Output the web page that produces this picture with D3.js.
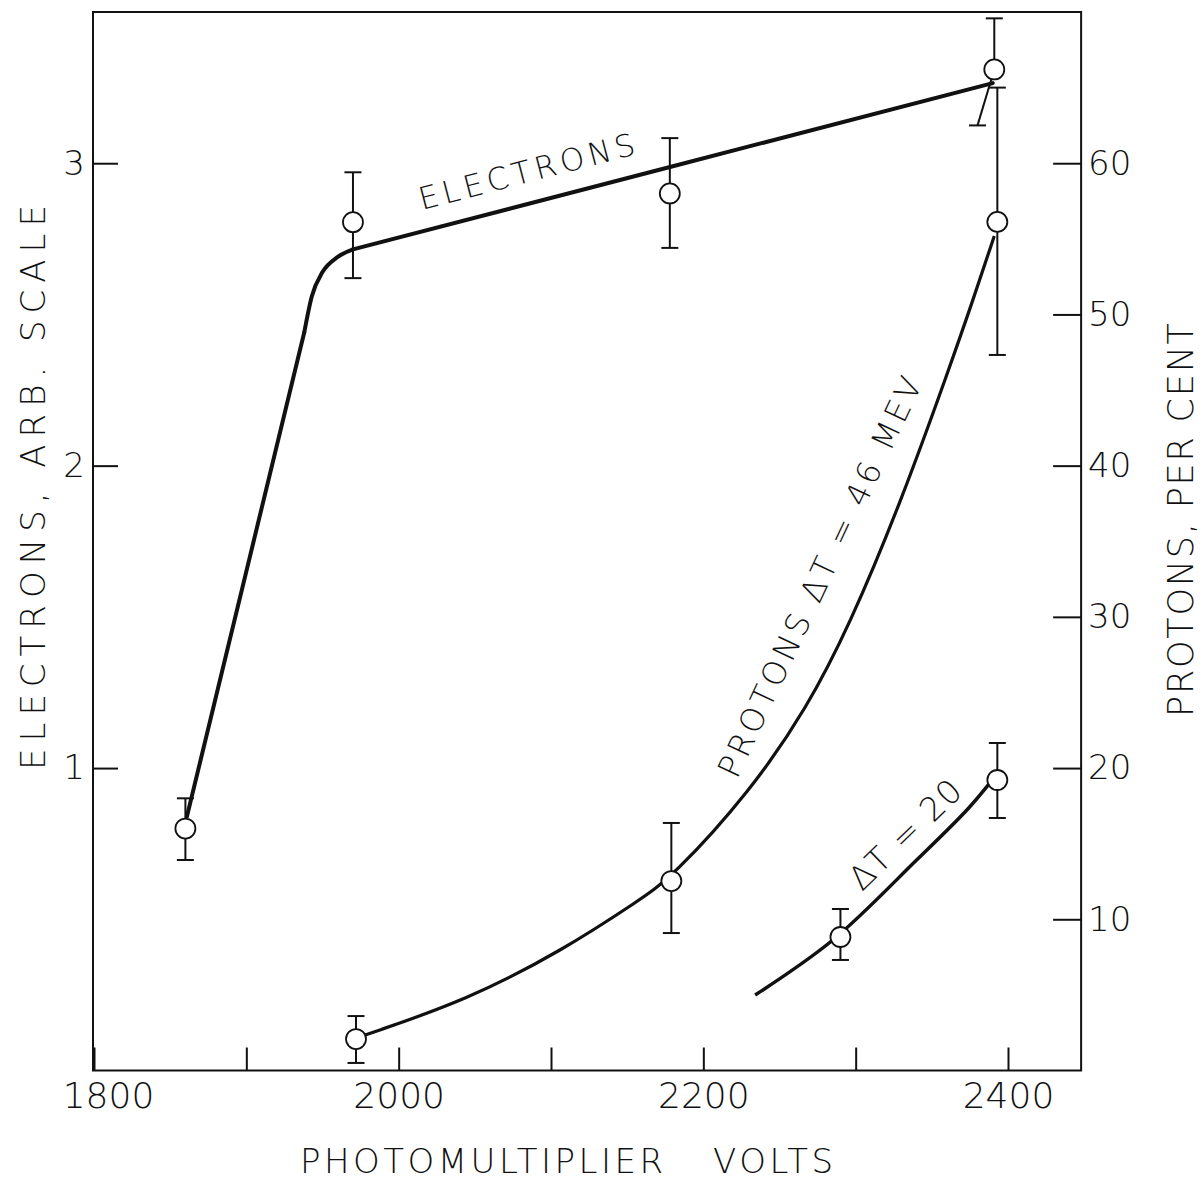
<!DOCTYPE html>
<html>
<head>
<meta charset="utf-8">
<script src="https://cdn.jsdelivr.net/npm/d3@7"></script>
<style>
  html, body { margin: 0; padding: 0; background: #fff; }
  svg text { font-family: "DejaVu Sans", "Liberation Sans", sans-serif; font-weight: 200; fill: #111; }
</style>
</head>
<body>
<svg id="chart" width="1200" height="1192"></svg>
<script>
// ---------- data ----------
// x ticks (photomultiplier volts)
const xTickValues = [1800, 1900, 2000, 2100, 2200, 2300, 2400];
const xTickLabels = [1800, 2000, 2200, 2400];
const leftTicks = [1, 2, 3];                 // electrons, arb. scale
const rightTicks = [10, 20, 30, 40, 50, 60]; // protons, per cent

// Electron measurements (left axis)
const electronVolts = [1860, 1970, 2178, 2391];
const electronVal   = [0.80, 2.805, 2.90, 3.31];
const electronHi    = [0.90, 2.97, 3.083, 3.479];
const electronLo    = [0.696, 2.62, 2.72, 3.125];
const electronLoBarVolts = [1860, 1970, 2178, 2380]; // last lower bar is drawn slanted

// Electron fitted curve (left axis): steep rise, rounded knee, straight line
const electronRiseV  = [1861, 1938];
const electronRiseY  = [0.84, 2.44];
const electronKneeV  = [1938, 1943, 1950, 1960, 1970];
const electronKneeY  = [2.44, 2.56, 2.64, 2.69, 2.715];
const electronLineV  = [1970, 2180, 2390];
const electronLineY  = [2.715, 2.99, 3.265];

// Protons, dT = 46 MeV (right axis, %)
const protonVolts = [1972, 2179, 2393];
const protonVal   = [2.08, 12.53, 56.12];
const protonHi    = [3.60, 16.37, 65.0];
const protonLo    = [0.50, 9.09, 47.32];
const protonCurveV = [1978, 2045, 2108, 2158, 2179, 2231, 2268, 2296, 2329, 2362, 2377, 2391];
const protonCurveY = [2.35, 4.66, 7.97, 11.27, 12.73, 18.48, 23.97, 29.46, 37.40, 46.59, 50.95, 55.19];

// Protons, dT = 20 (right axis, %)
const dt20Volts = [2290, 2393];
const dt20Val   = [8.83, 19.21];
const dt20Hi    = [10.68, 21.66];
const dt20Lo    = [7.31, 16.70];
const dt20CurveV = [2234, 2285, 2340, 2373, 2388];
const dt20CurveY = [4.99, 8.63, 13.92, 17.23, 19.01];

// ---------- drawing ----------
const svg = d3.select("#chart");
const x  = d3.scaleLinear().domain([1800, 2400]).range([94, 1008]);
const yL = d3.scaleLinear().domain([0, 3.5]).range([1070.5, 12]);
const yR = d3.scaleLinear().domain([0, 70]).range([1070.5, 12]);
const xMax = 2448;

const ink = "#111";

// frame
svg.append("rect")
  .attr("x", x(1800) - 1).attr("y", yL(3.5))
  .attr("width", x(xMax) - x(1800) + 1).attr("height", yL(0) - yL(3.5))
  .attr("fill", "none").attr("stroke", ink).attr("stroke-width", 2);

// axes
const tickStyle = g => {
  g.select(".domain").remove();
  g.selectAll(".tick line").attr("stroke", ink).attr("stroke-width", 2);
  g.selectAll(".tick text").attr("fill", ink)
    .style("font-family", '"DejaVu Sans", sans-serif').style("font-weight", 200);
};

svg.append("g").attr("transform", `translate(0,${yL(0)})`)
  .call(d3.axisBottom(x).tickValues(xTickValues).tickSizeInner(-23).tickSizeOuter(0).tickPadding(12)
    .tickFormat(d => xTickLabels.includes(d) ? String(d) : ""))
  .call(tickStyle)
  .call(g => g.selectAll(".tick text").style("font-size", "36px")
    .attr("dx", d => d === 1800 ? 14 : 0));

svg.append("g").attr("transform", `translate(${x(1800) - 1},0)`)
  .call(d3.axisLeft(yL).tickValues(leftTicks).tickSizeInner(-25).tickSizeOuter(0).tickPadding(8)
    .tickFormat(d3.format("d")))
  .call(tickStyle)
  .call(g => g.selectAll(".tick text").style("font-size", "34px"));

svg.append("g").attr("transform", `translate(${x(xMax)},0)`)
  .call(d3.axisRight(yR).tickValues(rightTicks).tickSizeInner(-28).tickSizeOuter(0).tickPadding(7)
    .tickFormat(d3.format("d")))
  .call(tickStyle)
  .call(g => g.selectAll(".tick text").style("font-size", "34px"));

// curves
const lineLlin = d3.line().x(d => x(d[0])).y(d => yL(d[1]));
const lineLknee = d3.line().x(d => x(d[0])).y(d => yL(d[1])).curve(d3.curveMonotoneX);
const lineRbasis = d3.line().x(d => x(d[0])).y(d => yR(d[1])).curve(d3.curveBasis);
const lineR = d3.line().x(d => x(d[0])).y(d => yR(d[1])).curve(d3.curveCatmullRom.alpha(0.5));

const eG = svg.append("g").attr("fill", "none").attr("stroke", ink).attr("stroke-width", 4)
  .attr("stroke-linecap", "round").attr("stroke-linejoin", "round");
eG.append("path").datum(d3.zip(electronRiseV, electronRiseY)).attr("d", lineLlin);
eG.append("path").datum(d3.zip(electronKneeV, electronKneeY)).attr("d", lineLknee);
eG.append("path").datum(d3.zip(electronLineV, electronLineY)).attr("d", lineLlin);

svg.append("path").datum(d3.zip(protonCurveV, protonCurveY))
  .attr("d", lineRbasis).attr("fill", "none").attr("stroke", ink).attr("stroke-width", 3.2);
svg.append("path").datum(d3.zip(dt20CurveV, dt20CurveY))
  .attr("d", lineR).attr("fill", "none").attr("stroke", ink).attr("stroke-width", 3.5);

// error bars + circles
const cap = 8.5, r = 10;
function drawPoints(vs, vals, his, los, yScale, loVs) {
  const g = svg.append("g");
  vs.forEach((v, i) => {
    const cx = x(v), cy = yScale(vals[i]);
    const lx = x(loVs ? loVs[i] : v);
    g.append("line").attr("x1", cx).attr("x2", cx).attr("y1", yScale(his[i])).attr("y2", cy)
      .attr("stroke", ink).attr("stroke-width", 2);
    g.append("line").attr("x1", cx).attr("x2", lx).attr("y1", cy).attr("y2", yScale(los[i]))
      .attr("stroke", ink).attr("stroke-width", 2);
    g.append("line").attr("x1", cx - cap).attr("x2", cx + cap)
      .attr("y1", yScale(his[i])).attr("y2", yScale(his[i])).attr("stroke", ink).attr("stroke-width", 2);
    g.append("line").attr("x1", lx - cap).attr("x2", lx + cap)
      .attr("y1", yScale(los[i])).attr("y2", yScale(los[i])).attr("stroke", ink).attr("stroke-width", 2);
    g.append("circle").attr("cx", cx).attr("cy", cy).attr("r", r)
      .attr("fill", "#fff").attr("stroke", ink).attr("stroke-width", 1.8);
  });
}
drawPoints(electronVolts, electronVal, electronHi, electronLo, yL, electronLoBarVolts);
drawPoints(protonVolts, protonVal, protonHi, protonLo, yR);
drawPoints(dt20Volts, dt20Val, dt20Hi, dt20Lo, yR);

// labels
function label(txt, px, py, angle, size, len) {
  svg.append("text").attr("transform", `translate(${px},${py}) rotate(${angle})`)
    .attr("x", 0).attr("y", 0).style("font-size", size + "px")
    .attr("textLength", len).attr("lengthAdjust", "spacing").text(txt);
}
label("ELECTRONS", 422, 210, -14.6, 31, 222);
label("PROTONS  ΔT = 46 MEV", 737, 780, -64.9, 32, 438);
label("ΔT = 20", 862, 892, -44, 33, 142);

// axis titles
svg.append("text").attr("transform", "translate(45,770) rotate(-90)")
  .style("font-size", "34px").attr("textLength", 565).attr("lengthAdjust", "spacing")
  .text("ELECTRONS, ARB. SCALE");
svg.append("text").attr("transform", "translate(1193,717) rotate(-90)")
  .style("font-size", "35px").attr("textLength", 394).attr("lengthAdjust", "spacing")
  .text("PROTONS, PER CENT");
svg.append("text").attr("x", 300).attr("y", 1173)
  .style("font-size", "34px").attr("textLength", 363).attr("lengthAdjust", "spacing")
  .text("PHOTOMULTIPLIER");
svg.append("text").attr("x", 713).attr("y", 1173)
  .style("font-size", "34px").attr("textLength", 120).attr("lengthAdjust", "spacing")
  .text("VOLTS");
</script>
</body>
</html>
